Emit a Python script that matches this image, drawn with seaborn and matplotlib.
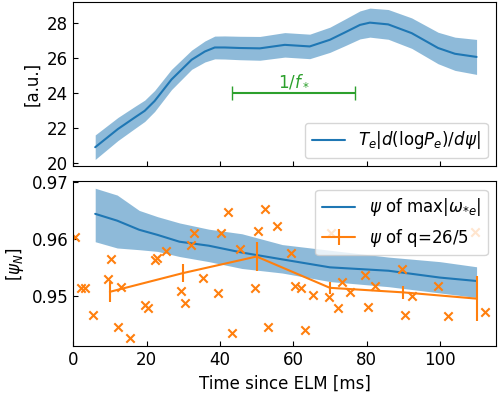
import matplotlib
matplotlib.use('Agg')
import matplotlib.pyplot as plt
import seaborn as sns
import numpy as np

# top panel: Te |d(log Pe)/dpsi| with uncertainty band
t_x = [6, 12.2, 16.8, 19.5, 22.2, 26.8, 32.3, 35.9, 38.6, 41.3, 45.4, 50.9, 57.7,
       64.5, 70, 74, 78.2, 80.9, 85.9, 92.3, 99.5, 104.1, 110]
t_y = [20.90, 21.94, 22.60, 22.98, 23.54, 24.77, 25.90, 26.37, 26.60, 26.60, 26.57,
       26.55, 26.75, 26.66, 27.04, 27.45, 27.89, 28.02, 27.92, 27.42, 26.57, 26.24, 26.06]
t_err = [0.70, 0.66, 0.63, 0.61, 0.60, 0.58, 0.55, 0.60, 0.65, 0.66, 0.67, 0.68, 0.70,
         0.70, 0.72, 0.76, 0.80, 0.83, 0.85, 0.87, 0.90, 0.95, 1.00]

# green period marker
fstar_start = 43.4
fstar_end = 76.8
fstar_level = 24.0

# bottom panel: psi of max |omega_*e|
b_x = [6, 12, 18, 23, 29, 37, 46, 57, 70, 86, 100, 110]
b_y = [0.9644, 0.9632, 0.9616, 0.9607, 0.9595, 0.9588, 0.9576, 0.9564, 0.9550, 0.9544, 0.9532, 0.9526]
b_hi = [0.9689, 0.9677, 0.9650, 0.9639, 0.9628, 0.9617, 0.9609, 0.9590, 0.9580, 0.9568, 0.9560, 0.9551]
b_lo = [0.9595, 0.9584, 0.9581, 0.9578, 0.9569, 0.9560, 0.9548, 0.9540, 0.9525, 0.9516, 0.9505, 0.9497]

# psi of q=26/5, binned
q_x = [10, 30, 50, 70, 90, 110]
q_y = [0.9507, 0.9540, 0.9569, 0.9514, 0.9506, 0.9495]
q_err = [0.0018, 0.0015, 0.0025, 0.0011, 0.0011, 0.0040]

# psi of q=26/5, individual samples
s_x = [0.4, 2.2, 3.1, 5.4, 9.5, 10.4, 12.2, 12.9, 15.4, 19.5, 20.4, 22.2, 22.9, 25.4,
       29.3, 30.4, 32.1, 33.0, 35.4, 39.5, 40.4, 42.2, 43.2, 45.5, 49.5, 50.4, 52.3,
       53.1, 55.6, 59.5, 60.4, 62.0, 63.2, 65.4, 69.8, 70.4, 72.3, 73.2, 75.4, 79.5,
       80.4, 82.3, 89.7, 90.6, 92.3, 99.5, 102.3, 109.5, 112.3]
s_y = [0.9603, 0.9513, 0.9513, 0.9467, 0.9530, 0.9565, 0.9446, 0.9516, 0.9425, 0.9483,
       0.9479, 0.9563, 0.9566, 0.9578, 0.9509, 0.9488, 0.9589, 0.9610, 0.9531, 0.9505,
       0.9611, 0.9648, 0.9435, 0.9582, 0.9513, 0.9614, 0.9653, 0.9446, 0.9622, 0.9576,
       0.9518, 0.9513, 0.9440, 0.9501, 0.9497, 0.9610, 0.9479, 0.9524, 0.9506, 0.9537,
       0.9480, 0.9518, 0.9547, 0.9467, 0.9499, 0.9518, 0.9465, 0.9612, 0.9472]

sns.set_style('ticks', {'axes.edgecolor': 'black', 'xtick.color': 'black',
                        'ytick.color': 'black', 'text.color': 'black',
                        'axes.labelcolor': 'black'})
plt.rcParams['font.family'] = ['DejaVu Sans']
plt.rcParams['font.size'] = 12
plt.rcParams['xtick.direction'] = 'in'
plt.rcParams['ytick.direction'] = 'in'

fig, (ax1, ax2) = plt.subplots(2, 1, sharex=True, figsize=(4.98, 3.98), dpi=100)
fig.subplots_adjust(left=0.147, right=0.996, top=0.995, bottom=0.131, hspace=0.091)

# top panel
sns.lineplot(x=t_x, y=t_y, ax=ax1, color='C0', label=r'$T_e|d(\mathrm{log}P_e)/d\psi|$')
ax1.fill_between(t_x, np.array(t_y) - np.array(t_err), np.array(t_y) + np.array(t_err),
                 color='C0', alpha=0.5, linewidth=0)
mid = (fstar_start + fstar_end) / 2
ax1.errorbar([mid], [fstar_level], xerr=[(fstar_end - fstar_start) / 2], color='C2',
             capsize=5, linewidth=1.5)
ax1.text(mid, fstar_level + 0.15, r'$1/f_*$', color='C2', ha='center', va='bottom')
ax1.set_ylim(19.8, 29.2)
ax1.set_ylabel('[a.u.]')
ax1.set_yticks([20, 22, 24, 26, 28])
ax1.legend(loc='lower right')

# bottom panel
sns.lineplot(x=b_x, y=b_y, ax=ax2, color='C0', label=r'$\psi$ of max$|\omega_{*e}|$')
ax2.fill_between(b_x, b_lo, b_hi, color='C0', alpha=0.5, linewidth=0)
ax2.errorbar(q_x, q_y, yerr=q_err, color='C1', label=r'$\psi$ of q=26/5')
sns.scatterplot(x=s_x, y=s_y, ax=ax2, color='C1', marker='x', s=36, linewidth=1.5,
                legend=False, zorder=2.5)
ax2.set_ylim(0.9412, 0.9701)
ax2.set_yticks([0.95, 0.96, 0.97])
ax2.set_xlim(0, 115.3)
ax2.set_xticks([0, 20, 40, 60, 80, 100])
ax2.set_ylabel(r'[$\psi_N$]')
ax2.set_xlabel('Time since ELM [ms]')
ax2.legend(loc='upper right')

fig.savefig('out.png', dpi=100)
